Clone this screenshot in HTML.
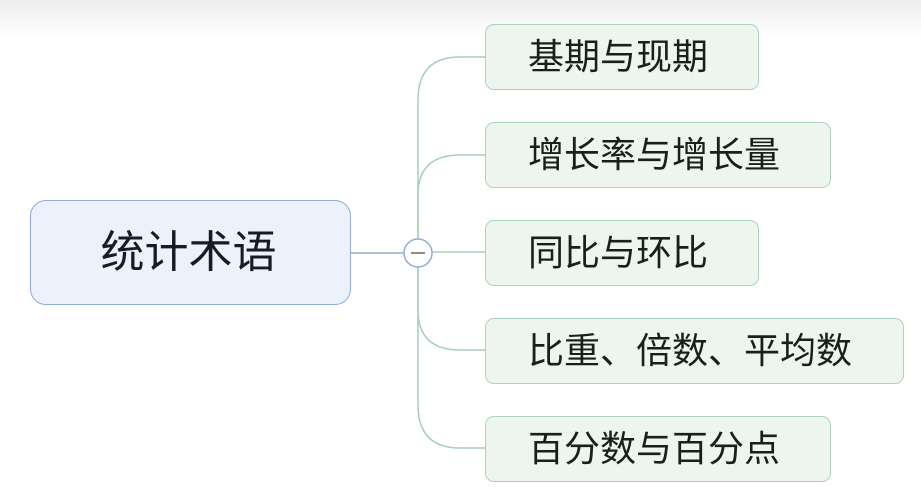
<!DOCTYPE html>
<html><head><meta charset="utf-8"><style>
html,body{margin:0;padding:0;width:921px;height:487px;overflow:hidden;background:#fff;}
.top{position:absolute;left:0;top:0;width:921px;height:38px;background:linear-gradient(#ededed,#fff);}
.b{position:absolute;box-sizing:border-box;border:1.5px solid #a9d3bd;background:#eef5ef;border-radius:9px;font-family:"Liberation Sans","Noto Sans CJK SC",sans-serif;font-size:36px;color:#16201c;line-height:64px;padding-left:42px;white-space:nowrap;}
.c{position:absolute;left:30px;top:200px;width:321px;height:105px;box-sizing:border-box;border:1.5px solid #90acd6;background:#ecf2fc;border-radius:16px;font-family:"Liberation Sans","Noto Sans CJK SC",sans-serif;font-size:44px;color:#161c20;line-height:104px;text-align:center;padding-right:4px;}
svg{position:absolute;left:0;top:0;}
</style></head><body>
<div class="top"></div>
<svg width="921" height="487">
<g fill="none" stroke="#a6cfbb" stroke-width="1.5">
<path d="M418 252 V100 Q418 57 460 57 H486"/>
<path d="M418 252 V195 Q418 155 460 155 H486"/>
<path d="M418 252 H486"/>
<path d="M418 252 V310 Q418 350 460 350 H486"/>
<path d="M418 252 V405 Q418 448 460 448 H486"/>
</g>
<line x1="351" y1="253" x2="404" y2="253" stroke="#90acd6" stroke-width="1.5"/>
<circle cx="418" cy="253" r="14" fill="#fff" stroke="#90acd6" stroke-width="1.5"/>
<line x1="411" y1="253" x2="425" y2="253" stroke="#666" stroke-width="1.5"/>
</svg>
<div class="c">统计术语</div>
<div class="b" style="left:485px;top:24px;width:274px;height:66px;">基期与现期</div>
<div class="b" style="left:485px;top:122px;width:346px;height:66px;">增长率与增长量</div>
<div class="b" style="left:485px;top:220px;width:274px;height:66px;">同比与环比</div>
<div class="b" style="left:485px;top:318px;width:419px;height:66px;">比重、倍数、平均数</div>
<div class="b" style="left:485px;top:416px;width:346px;height:66px;">百分数与百分点</div>
</body></html>
